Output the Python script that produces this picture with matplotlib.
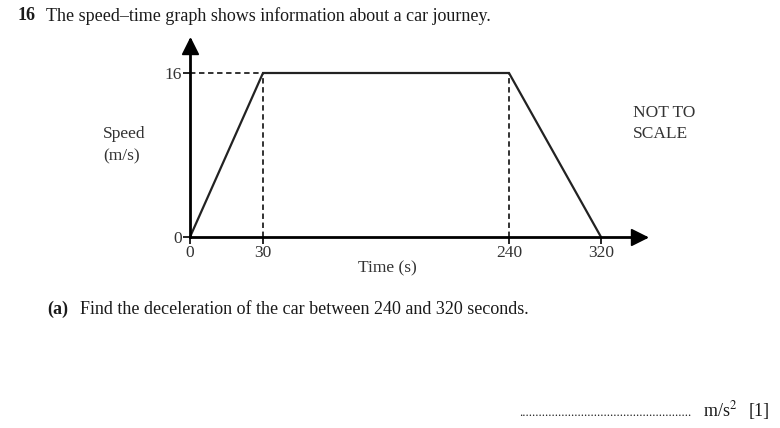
import numpy as np
import matplotlib
matplotlib.use("Agg")
import matplotlib.pyplot as plt

# Data
times = [0, 30, 240, 320]
speeds = [0, 16, 16, 0]
x_ticks = [0, 30, 240, 320]
x_tick_labels = ["0", "30", "240", "320"]
y_ticks = [0, 16]
y_tick_labels = ["0", "16"]
dashed_times = [30, 240]
dashed_speed = 16

W, H = 780, 428
plt.rcParams['font.family'] = ['Liberation Serif', 'DejaVu Serif']
plt.rcParams['mathtext.fontset'] = 'stix'

fig = plt.figure(figsize=(W / 100, H / 100), dpi=100)

# "NOT TO SCALE" axis: piecewise-linear time scale
knot_t = np.array([-50.0, 0, 30, 240, 320, 400])
knot_p = np.array([190 - 50 * 73 / 30, 190, 263, 509, 601, 601 + 80 * 92 / 80])


def fwd(t):
    return np.interp(t, knot_t, knot_p)


def inv(p):
    return np.interp(p, knot_p, knot_t)


# axes in pixel box: left 190 -> right 645, bottom 237 -> top 40
ax_left, ax_right, ax_bottom, ax_top = 190, 645, 237, 40
ax = fig.add_axes([ax_left / W, 1 - ax_bottom / H, (ax_right - ax_left) / W, (ax_bottom - ax_top) / H])
ax.set_xscale('function', functions=(fwd, inv))
ax.set_xlim(0, inv(ax_right))
ppu = (237 - 73) / 16
ymax = (ax_bottom - ax_top) / ppu
ax.set_ylim(0, ymax)

for s in ['top', 'right']:
    ax.spines[s].set_visible(False)
for s in ['left', 'bottom']:
    ax.spines[s].set_linewidth(2.0)
    ax.spines[s].set_color('black')

# arrow heads
ax.plot([0], [ymax - 6 / ppu], marker='^', color='black', markersize=11, clip_on=False)
ax.plot([inv(ax_right - 6)], [0], marker='>', color='black', markersize=11, clip_on=False)

# graph line
ax.plot(times, speeds, color='#222222', linewidth=1.6, clip_on=False, solid_joinstyle='miter')

# dashed guides
ax.plot([0, dashed_times[0]], [dashed_speed, dashed_speed], color='#222222', linewidth=1.3,
        linestyle=(0, (3, 2)))
for t in dashed_times:
    ax.plot([t, t], [0, dashed_speed], color='#222222', linewidth=1.3, linestyle=(0, (3, 2)))

ax.set_xticks(x_ticks)
ax.set_xticklabels(x_tick_labels)
ax.set_yticks(y_ticks)
ax.set_yticklabels(y_tick_labels)
ax.minorticks_off()
ax.tick_params(axis='both', direction='out', length=5, width=1.2, labelsize=12.5, pad=1,
               colors='black', labelcolor='#333333')
ax.patch.set_alpha(0)


def px(x, y):
    return x / W, 1 - y / H


txt_color = '#1a1a1a'
fig.text(*px(18, 16), "16", fontsize=13, fontweight='bold', va='center', ha='left', color=txt_color)
fig.text(*px(46, 16), "The speed\u2013time graph shows information about a car journey.",
         fontsize=13, va='center', ha='left', color=txt_color)

fig.text(*px(103, 134), "Speed", fontsize=12.5, va='center', ha='left', color='#333333')
fig.text(*px(103, 156), "(m/s)", fontsize=12.5, va='center', ha='left', color='#333333')

fig.text(*px(633, 113), "NOT TO", fontsize=12.5, va='center', ha='left', color='#333333')
fig.text(*px(633, 134), "SCALE", fontsize=12.5, va='center', ha='left', color='#333333')

fig.text(*px(387, 268), "Time (s)", fontsize=12.5, va='center', ha='center', color='#333333')

fig.text(*px(47, 309), "(a)", fontsize=13, fontweight='bold', va='center', ha='left', color=txt_color)
fig.text(*px(80, 309), "Find the deceleration of the car between 240 and 320 seconds.",
         fontsize=13, va='center', ha='left', color=txt_color)

fig.text(*px(691, 416), "." * 53, fontsize=9, va='baseline', ha='right', color=txt_color)
fig.text(*px(703, 416), r"m/s$^2$", fontsize=13, va='baseline', ha='left', color=txt_color)
fig.text(*px(749, 416), "[1]", fontsize=13, va='baseline', ha='left', color=txt_color)

fig.savefig("out.png", dpi=100)
